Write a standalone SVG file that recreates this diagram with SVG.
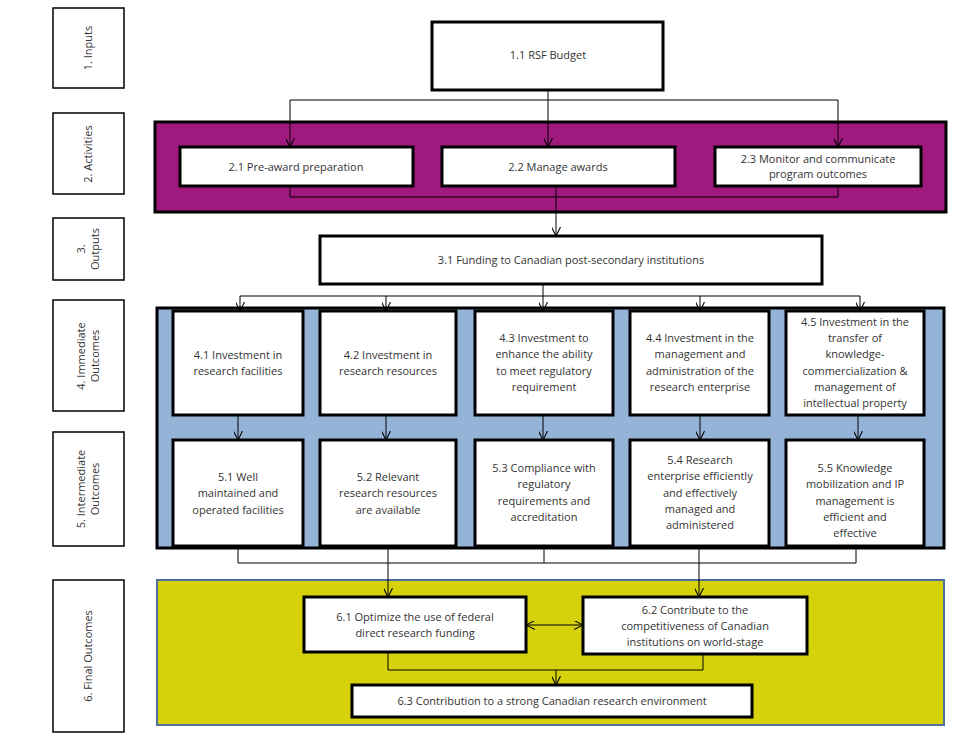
<svg xmlns="http://www.w3.org/2000/svg" width="955" height="740" viewBox="0 0 955 740">
<defs>
<style>
.lab{fill:#fff;stroke:#000;stroke-width:1.5}
.box{fill:#fff;stroke:#000;stroke-width:3}
.t{font-family:"Open Sans","Liberation Sans",sans-serif;font-size:11px;fill:#333;text-anchor:middle}
.c{fill:none;stroke:#000;stroke-width:1}
</style>
<marker id="a" viewBox="0 0 10 10" refX="10" refY="5" markerWidth="9" markerHeight="9" orient="auto-start-reverse" markerUnits="userSpaceOnUse"><path d="M0,0 L10,5 L0,10" fill="none" stroke="#000" stroke-width="1.2"/></marker>
</defs>
<rect width="955" height="740" fill="#fff"/>
<g id="labels">
<rect class="lab" x="53" y="8" width="71" height="80"/><text class="t" transform="translate(92,48) rotate(-90)">1. Inputs</text>
<rect class="lab" x="53" y="113" width="71" height="81"/><text class="t" transform="translate(92,154) rotate(-90)">2. Activities</text>
<rect class="lab" x="53" y="218" width="71" height="62"/><text class="t" transform="translate(85,249) rotate(-90)">3.</text><text class="t" transform="translate(99,249) rotate(-90)">Outputs</text>
<rect class="lab" x="53" y="300" width="71" height="111"/><text class="t" transform="translate(85,356) rotate(-90)">4. Immediate</text><text class="t" transform="translate(99,356) rotate(-90)">Outcomes</text>
<rect class="lab" x="53" y="432" width="71" height="114"/><text class="t" transform="translate(85,489) rotate(-90)">5. Intermediate</text><text class="t" transform="translate(99,489) rotate(-90)">Outcomes</text>
<rect class="lab" x="53" y="580" width="71" height="152"/><text class="t" transform="translate(92,656) rotate(-90)">6. Final Outcomes</text>
</g>
<g id="panels">
<rect x="155" y="122" width="791" height="90" fill="#A0197F" stroke="#000" stroke-width="3"/>
<rect x="157" y="308" width="787" height="240" fill="#95B3D7" stroke="#000" stroke-width="3"/>
<rect x="157" y="580" width="787" height="145" fill="#D5D10B" stroke="#4F6F9F" stroke-width="2"/>
</g>
<g id="connectors">
<path class="c" d="M548,90 V100 M290,100 H838"/>
<path class="c" d="M290,100 V147" marker-end="url(#a)"/>
<path class="c" d="M548,100 V147" marker-end="url(#a)"/>
<path class="c" d="M838,100 V147" marker-end="url(#a)"/>
<path class="c" d="M290,186 V197 H838 V186"/>
<path class="c" d="M556,186 V236" marker-end="url(#a)"/>
<path class="c" d="M543,284 V296 M240,296 H860"/>
<path class="c" d="M240,296 V311" marker-end="url(#a)"/>
<path class="c" d="M386,296 V311" marker-end="url(#a)"/>
<path class="c" d="M543,296 V311" marker-end="url(#a)"/>
<path class="c" d="M700,296 V311" marker-end="url(#a)"/>
<path class="c" d="M860,296 V311" marker-end="url(#a)"/>
<path class="c" d="M238,415 V440" marker-end="url(#a)"/>
<path class="c" d="M386,415 V440" marker-end="url(#a)"/>
<path class="c" d="M543,415 V440" marker-end="url(#a)"/>
<path class="c" d="M700,415 V440" marker-end="url(#a)"/>
<path class="c" d="M858,415 V440" marker-end="url(#a)"/>
<path class="c" d="M238,548 V563 H856 V548 M544,548 V563"/>
<path class="c" d="M388,548 V597" marker-end="url(#a)"/>
<path class="c" d="M699,548 V597" marker-end="url(#a)"/>
<path class="c" d="M526,625 H583" marker-start="url(#a)" marker-end="url(#a)"/>
<path class="c" d="M388,652 V670 H703 V654"/>
<path class="c" d="M556,670 V685" marker-end="url(#a)"/>
</g>
<g id="n11"><rect class="box" x="432" y="22" width="231" height="68"/><text class="t" x="548" y="59">1.1 RSF Budget</text></g>
<g id="n21"><rect class="box" x="180" y="147" width="233" height="39"/><text class="t" x="296" y="171">2.1 Pre-award preparation</text></g>
<g id="n22"><rect class="box" x="442" y="147" width="233" height="39"/><text class="t" x="558" y="171">2.2 Manage awards</text></g>
<g id="n23"><rect class="box" x="715" y="147" width="206" height="39"/><text class="t" x="818" y="163">2.3 Monitor and communicate</text><text class="t" x="818" y="178">program outcomes</text></g>
<g id="n31"><rect class="box" x="320" y="236" width="502" height="48"/><text class="t" x="571" y="264">3.1 Funding to Canadian post-secondary institutions</text></g>
<g id="n41"><rect class="box" x="173" y="311" width="130" height="104"/><text class="t" x="238" y="359">4.1 Investment in</text><text class="t" x="238" y="375">research facilities</text></g>
<g id="n42"><rect class="box" x="320" y="311" width="136" height="104"/><text class="t" x="388" y="359">4.2 Investment in</text><text class="t" x="388" y="375">research resources</text></g>
<g id="n43"><rect class="box" x="475" y="311" width="138" height="104"/><text class="t" x="544" y="342">4.3 Investment to</text><text class="t" x="544" y="358">enhance the ability</text><text class="t" x="544" y="375">to meet  regulatory</text><text class="t" x="544" y="391">requirement</text></g>
<g id="n44"><rect class="box" x="630" y="311" width="139" height="104"/><text class="t" x="700" y="342">4.4 Investment in the</text><text class="t" x="700" y="358">management  and</text><text class="t" x="700" y="375">administration of the</text><text class="t" x="700" y="391">research enterprise</text></g>
<g id="n45"><rect class="box" x="786" y="311" width="138" height="104"/><text class="t" x="855" y="326">4.5 Investment in the</text><text class="t" x="855" y="342">transfer of</text><text class="t" x="855" y="358">knowledge-</text><text class="t" x="855" y="375">commercialization &amp;</text><text class="t" x="855" y="391">management  of</text><text class="t" x="855" y="407">intellectual property</text></g>
<g id="n51"><rect class="box" x="173" y="440" width="130" height="106"/><text class="t" x="238" y="481">5.1 Well</text><text class="t" x="238" y="497">maintained and</text><text class="t" x="238" y="514">operated facilities</text></g>
<g id="n52"><rect class="box" x="320" y="440" width="136" height="106"/><text class="t" x="388" y="481">5.2 Relevant</text><text class="t" x="388" y="497">research resources</text><text class="t" x="388" y="514">are available</text></g>
<g id="n53"><rect class="box" x="475" y="440" width="138" height="106"/><text class="t" x="544" y="472">5.3 Compliance with</text><text class="t" x="544" y="488">regulatory</text><text class="t" x="544" y="505">requirements  and</text><text class="t" x="544" y="521">accreditation</text></g>
<g id="n54"><rect class="box" x="630" y="440" width="139" height="106"/><text class="t" x="700" y="464">5.4 Research</text><text class="t" x="700" y="480">enterprise efficiently</text><text class="t" x="700" y="497">and effectively</text><text class="t" x="700" y="513">managed and</text><text class="t" x="700" y="529">administered</text></g>
<g id="n55"><rect class="box" x="786" y="440" width="138" height="106"/><text class="t" x="855" y="472">5.5 Knowledge</text><text class="t" x="855" y="488">mobilization and IP</text><text class="t" x="855" y="505">management is</text><text class="t" x="855" y="521">efficient and</text><text class="t" x="855" y="537">effective</text></g>
<g id="n61"><rect class="box" x="304" y="597" width="222" height="55"/><text class="t" x="415" y="621">6.1 Optimize the use of federal</text><text class="t" x="415" y="637">direct research funding</text></g>
<g id="n62"><rect class="box" x="583" y="597" width="224" height="57"/><text class="t" x="695" y="614">6.2 Contribute to the</text><text class="t" x="695" y="630">competitiveness of Canadian</text><text class="t" x="695" y="646">institutions on world-stage</text></g>
<g id="n63"><rect class="box" x="352" y="685" width="400" height="32"/><text class="t" x="552" y="705">6.3 Contribution to a strong Canadian research environment</text></g>
</svg>
